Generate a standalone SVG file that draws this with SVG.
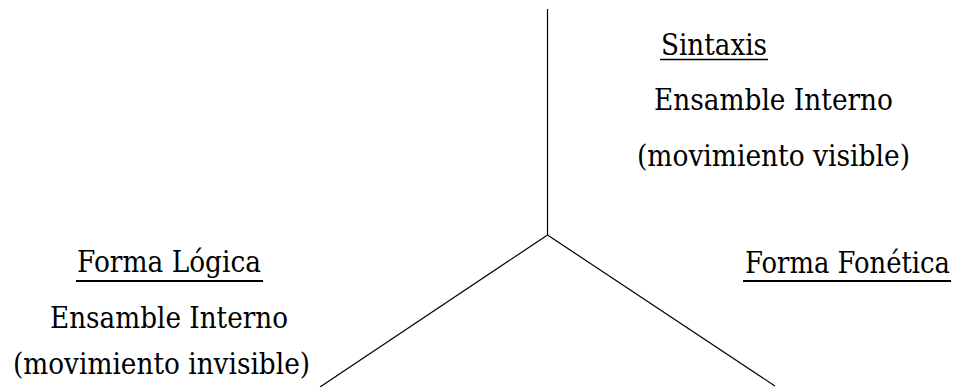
<svg xmlns="http://www.w3.org/2000/svg" width="959" height="387" viewBox="0 0 959 387">
<style>
.t{font-family:'DejaVu Serif',serif;font-size:30px;fill:#000}
.ln{stroke:#000;stroke-width:1.2;fill:none}
.ul{stroke:#000;fill:none}
</style>
<rect width="959" height="387" fill="#fff"/>
<g id="connectors">
<line class="ln" x1="547.5" y1="9" x2="547.5" y2="235"/>
<line class="ln" x1="547.5" y1="235" x2="320" y2="387"/>
<line class="ln" x1="547.5" y1="235" x2="775" y2="386"/>
</g>
<g id="sintaxis" class="t">
<text x="661" y="55" textLength="106" lengthAdjust="spacingAndGlyphs">Sintaxis</text>
<line class="ul" x1="660" y1="59.5" x2="768" y2="59.5" stroke-width="1.5"/>
<text x="654" y="110" textLength="239" lengthAdjust="spacingAndGlyphs">Ensamble Interno</text>
<text x="637" y="166" textLength="273" lengthAdjust="spacingAndGlyphs">(movimiento visible)</text>
</g>
<g id="forma-logica" class="t">
<text x="77" y="272" textLength="184" lengthAdjust="spacingAndGlyphs">Forma Lógica</text>
<line class="ul" x1="76" y1="281" x2="263" y2="281" stroke-width="2.2"/>
<text x="50" y="328" textLength="238" lengthAdjust="spacingAndGlyphs">Ensamble Interno</text>
<text x="13" y="374" textLength="297" lengthAdjust="spacingAndGlyphs">(movimiento invisible)</text>
</g>
<g id="forma-fonetica" class="t">
<text x="950" y="273" text-anchor="end" textLength="205" lengthAdjust="spacingAndGlyphs">Forma Fonética</text>
<line class="ul" x1="743" y1="281" x2="951" y2="281" stroke-width="2.2"/>
</g>
</svg>
